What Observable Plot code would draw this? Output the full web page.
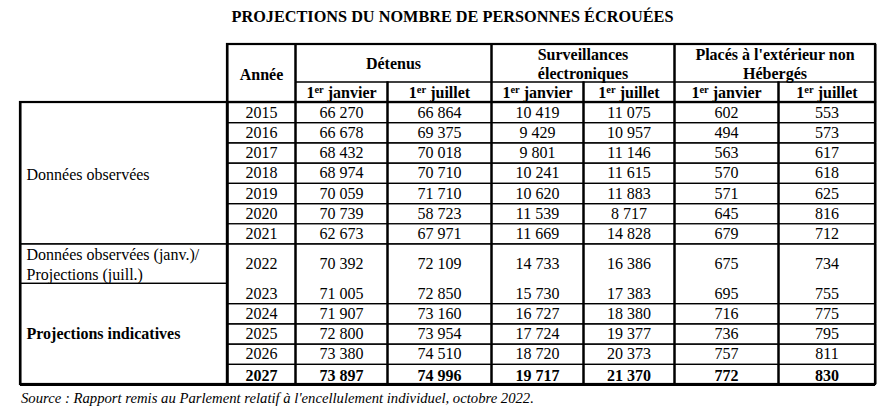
<!DOCTYPE html>
<html><head><meta charset="utf-8">
<script src="https://cdn.jsdelivr.net/npm/d3@7"></script>
<script src="https://cdn.jsdelivr.net/npm/@observablehq/plot@0.6"></script>
<style>
body{margin:0;background:#fff;font-family:"Liberation Serif",serif;color:#000;}
#title{height:34px;line-height:34px;font-weight:bold;font-size:16.25px;text-align:center;padding-left:13px;box-sizing:border-box;width:892px;}
#chart svg{display:block}
#chart svg text, #chart svg tspan{font-family:"Liberation Serif","Times New Roman",serif;}
#caption{height:20px;line-height:20px;font-style:italic;font-size:14.7px;padding-left:21px;}
</style></head><body>
<div id="title"></div>
<div id="chart"></div>
<div id="caption"></div>
<script>
// ---------- DATA ----------
const titleText = "PROJECTIONS DU NOMBRE DE PERSONNES ÉCROUÉES";
const sourceText = "Source : Rapport remis au Parlement relatif à l'encellulement individuel, octobre 2022.";
const yearHeader = "Année";
const groupHeaders = ["Détenus", "Surveillances\nélectroniques", "Placés à l'extérieur non\nHébergés"];
const subHeaders = ["1er janvier", "1er juillet"];
const years = [2015, 2016, 2017, 2018, 2019, 2020, 2021, 2022, 2023, 2024, 2025, 2026, 2027];
const detenusJanvier = [66270, 66678, 68432, 68974, 70059, 70739, 62673, 70392, 71005, 71907, 72800, 73380, 73897];
const detenusJuillet = [66864, 69375, 70018, 70710, 71710, 58723, 67971, 72109, 72850, 73160, 73954, 74510, 74996];
const surveillanceJanvier = [10419, 9429, 9801, 10241, 10620, 11539, 11669, 14733, 15730, 16727, 17724, 18720, 19717];
const surveillanceJuillet = [11075, 10957, 11146, 11615, 11883, 8717, 14828, 16386, 17383, 18380, 19377, 20373, 21370];
const placesJanvier = [602, 494, 563, 570, 571, 645, 679, 675, 695, 716, 736, 757, 772];
const placesJuillet = [553, 573, 617, 618, 625, 816, 712, 734, 755, 775, 795, 811, 830];
const rowGroupLabels = ["Données observées", "Données observées (janv.)/\nProjections (juill.)", "Projections indicatives"];
const rowGroupFirstYear = [2015, 2022, 2023];
const rowGroupLastYear = [2021, 2022, 2027];
const boldYear = 2027;

// ---------- LAYOUT ----------
const colWidths = [207, 68, 92, 104, 92, 91, 104, 97];
const rowHeights = [37.5, 20.5, ...years.map(y => y === 2022 ? 39.5 : 20.2)];
const colEdges = Array.from(d3.cumsum([0, ...colWidths]));
const rowEdges = Array.from(d3.cumsum([0, ...rowHeights]));
const series = [detenusJanvier, detenusJuillet, surveillanceJanvier, surveillanceJuillet, placesJanvier, placesJuillet];
const fmt = d3.formatLocale({thousands: " ", grouping: [3], decimal: ",", currency: ["", ""]}).format(",d");
const rowOf = y => 2 + years.indexOf(y);
const midX = (c1, c2) => (colEdges[c1] + colEdges[c2]) / 2;
const midY = (r1, r2) => (rowEdges[r1] + rowEdges[r2]) / 2;

document.getElementById("title").textContent = titleText;
document.getElementById("caption").textContent = sourceText;

const texts = [];
const boxes = [];

texts.push({x: midX(1, 2), y: midY(0, 2), text: yearHeader, bold: true});
boxes.push({c1: 1, c2: 2, r1: 0, r2: 2});
groupHeaders.forEach((h, g) => {
  texts.push({x: midX(2 + 2 * g, 4 + 2 * g), y: midY(0, 1), text: h, bold: true});
  boxes.push({c1: 2 + 2 * g, c2: 4 + 2 * g, r1: 0, r2: 1});
});
series.forEach((s, k) => {
  texts.push({x: midX(2 + k, 3 + k), y: midY(1, 2), text: subHeaders[k % 2], bold: true});
  boxes.push({c1: 2 + k, c2: 3 + k, r1: 1, r2: 2});
});
rowGroupLabels.forEach((lab, g) => {
  const r1 = rowOf(rowGroupFirstYear[g]), r2 = rowOf(rowGroupLastYear[g]) + 1;
  texts.push({x: colEdges[0], y: midY(r1, r2), text: lab, bold: g === 2, left: true});
  boxes.push({c1: 0, c2: 1, r1, r2});
});
years.forEach((yr, i) => {
  const r = rowOf(yr);
  const bold = yr === boldYear;
  texts.push({x: midX(1, 2), y: midY(r, r + 1), text: String(yr), bold});
  series.forEach((s, k) => texts.push({x: midX(2 + k, 3 + k), y: midY(r, r + 1), text: fmt(s[i]), bold}));
  if (yr === 2023) return;
  const r2 = yr === 2022 ? r + 2 : r + 1;
  for (let c = 1; c < 8; c++) boxes.push({c1: c, c2: c + 1, r1: r, r2});
});

const hSegs = boxes.flatMap(b => [
  {y: rowEdges[b.r1], x1: colEdges[b.c1], x2: colEdges[b.c2]},
  {y: rowEdges[b.r2], x1: colEdges[b.c1], x2: colEdges[b.c2]}]);
const vSegs = boxes.flatMap(b => [
  {x: colEdges[b.c1], y1: rowEdges[b.r1], y2: rowEdges[b.r2]},
  {x: colEdges[b.c2], y1: rowEdges[b.r1], y2: rowEdges[b.r2]}]);
const nR = rowEdges.length - 1, nC = colEdges.length - 1;
const frames = [
  {c1: 1, c2: nC, r1: 0, r2: 2},
  {c1: 0, c2: 1, r1: 2, r2: nR},
  {c1: 1, c2: nC, r1: 2, r2: nR}
].map(b => ({x1: colEdges[b.c1], x2: colEdges[b.c2], y1: rowEdges[b.r1], y2: rowEdges[b.r2]}));
const bottomLine = [{y: rowEdges[nR], x1: colEdges[0], x2: colEdges[nC]}];

const FS = 16;
const FF = "Liberation Serif";
const centerPlain = texts.filter(d => !d.left && !d.bold);
const centerBold = texts.filter(d => !d.left && d.bold);
const leftPlain = texts.filter(d => d.left && !d.bold);
const leftBold = texts.filter(d => d.left && d.bold);

const plot = Plot.plot({
  width: 892, height: 354,
  marginTop: 10, marginBottom: 4, marginLeft: 0, marginRight: 0,
  x: {domain: [0, colEdges[nC]], range: [20, 875], axis: null},
  y: {domain: [0, rowEdges[nR]], range: [10, 350], axis: null},
  style: {fontFamily: "'Liberation Serif', serif", background: "white", color: "black", overflow: "visible"},
  marks: [
    Plot.ruleY(hSegs, {y: "y", x1: "x1", x2: "x2", stroke: "black", strokeWidth: 1.2}),
    Plot.ruleX(vSegs, {x: "x", y1: "y1", y2: "y2", stroke: "black", strokeWidth: 2}),
    Plot.rect(frames, {x1: "x1", x2: "x2", y1: "y1", y2: "y2", fill: "none", stroke: "black", strokeWidth: 2.2}),
    Plot.ruleY(bottomLine, {y: "y", x1: "x1", x2: "x2", stroke: "black", strokeWidth: 3}),
    Plot.text(centerPlain, {x: "x", y: "y", text: "text", fontSize: FS, fontFamily: FF, fill: "black"}),
    Plot.text(centerBold, {x: "x", y: "y", text: "text", fontSize: FS, fontFamily: FF, fontWeight: "bold", fill: "black", lineHeight: 1.2}),
    Plot.text(leftPlain, {x: "x", y: "y", text: "text", fontSize: FS, fontFamily: FF, fill: "black", textAnchor: "start", dx: 6, lineHeight: 1.25}),
    Plot.text(leftBold, {x: "x", y: "y", text: "text", fontSize: FS, fontFamily: FF, fontWeight: "bold", fill: "black", textAnchor: "start", dx: 6})
  ]
});

const NS = "http://www.w3.org/2000/svg";
plot.querySelectorAll("text").forEach(t => {
  const s = t.textContent;
  if (t.children.length === 0 && /^1er /.test(s)) {
    t.textContent = "";
    const a = document.createElementNS(NS, "tspan"); a.textContent = "1";
    const b = document.createElementNS(NS, "tspan"); b.textContent = "er";
    b.setAttribute("font-size", "10.5px"); b.setAttribute("dy", "-5");
    const c = document.createElementNS(NS, "tspan"); c.textContent = s.slice(3);
    c.setAttribute("dy", "5");
    t.append(a, b, c);
  }
});
document.getElementById("chart").append(plot);
</script>
</body></html>
